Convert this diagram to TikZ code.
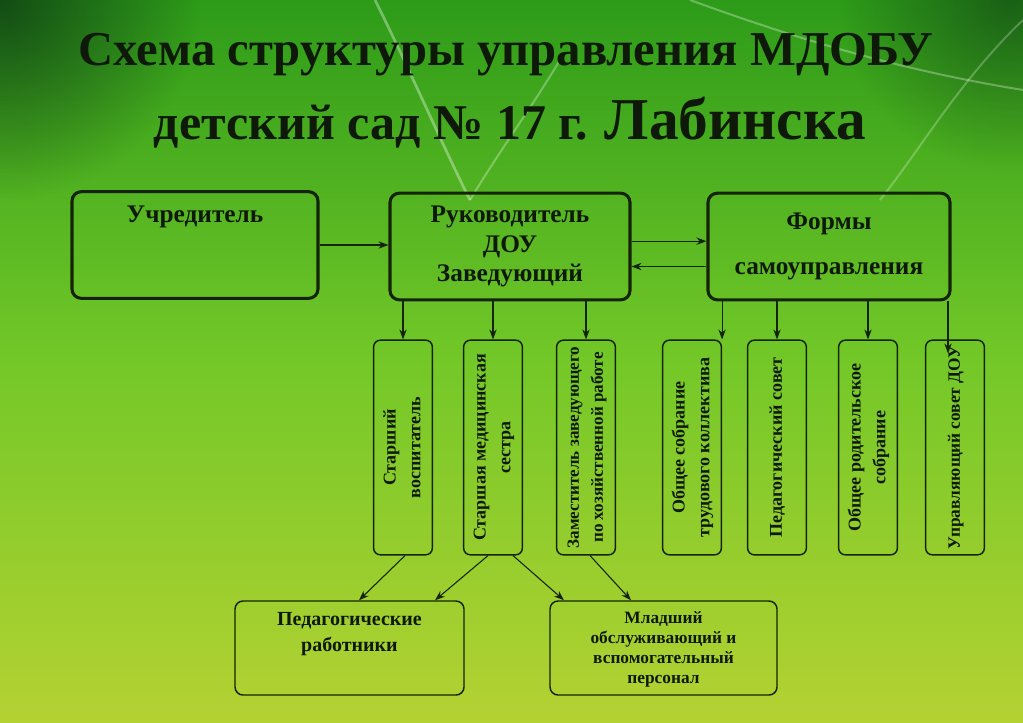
\documentclass[tikz,border=0pt]{standalone}
\usepackage{fontspec}
\setmainfont{Liberation Serif}
\usepackage{graphicx}
\usetikzlibrary{arrows.meta,calc,fadings}
\definecolor{bgtop}{RGB}{45,155,25}
\definecolor{bgmid}{RGB}{115,200,40}
\definecolor{bgbot}{RGB}{180,210,50}
\definecolor{bgdark}{RGB}{10,50,20}
\definecolor{boxline}{RGB}{20,35,10}
\definecolor{ink}{RGB}{15,25,10}
\newcommand{\vlab}[1]{\rotatebox{90}{\begin{tabular}{@{}c@{}}#1\end{tabular}}}
\tikzfading[name=softdisc, inner color=transparent!0, outer color=transparent!100]
\tikzstyle{arr} = [thick,-{Stealth[length=7.5pt,width=5.5pt]},color=boxline]
\tikzstyle{topbox} = [draw=boxline,line width=2.3pt,rounded corners=7pt,minimum height=80pt,inner sep=0pt]
\tikzstyle{vbox} = [draw=boxline,line width=1.1pt,rounded corners=5pt,minimum width=44pt,minimum height=161pt,inner sep=0pt,font=\bfseries\fontsize{13.5}{18.5}\selectfont,text=ink]
\tikzstyle{lowbox} = [draw=boxline,line width=1.1pt,rounded corners=6pt,minimum height=70.5pt,inner sep=0pt]
\tikzstyle{boxtext} = [font=\bfseries\fontsize{19}{22}\selectfont,text=ink,align=center,inner sep=0pt]

\begin{document}
\begin{tikzpicture}[x=0.75pt,y=0.75pt,yscale=-1,xscale=1]
\useasboundingbox (0,0) rectangle (1023,722);

%Background
\shade[top color=bgtop, bottom color=bgbot, middle color=bgmid] (0,0) rectangle (1023,722);
\fill[bgdark, opacity=0.75, path fading=softdisc] (-200,-200) rectangle (200,200);
\fill[bgdark, opacity=0.55, path fading=softdisc] (840,-170) rectangle (1180,170);
%Light streaks
\draw[white, opacity=0.35, line width=2] (375,0) .. controls (410,70) and (440,140) .. (470,200);
\draw[white, opacity=0.3, line width=1.5] (470,200) .. controls (500,150) and (530,110) .. (560,60);
\draw[white, opacity=0.3, line width=1.5] (690,0) .. controls (800,40) and (900,70) .. (1023,90);
\draw[white, opacity=0.25, line width=1.5] (1023,20) .. controls (960,80) and (920,150) .. (880,200);

% Title
\node[anchor=base,text=ink,font=\bfseries\fontsize{36.5}{40}\selectfont] (title1) at (506,65) {Схема структуры управления МДОБУ};
\node[anchor=base,text=ink,font=\bfseries\fontsize{37.5}{40}\selectfont] (title2) at (510,139) {детский сад № 17 г. {\fontsize{44.5}{46}\selectfont Лабинска}};

%Top boxes
\node[topbox,minimum width=184.5pt] (uch) at (195,245) {};
\node[boxtext,anchor=base] (uchtxt) at (195,222) {Учредитель};
\node[topbox,minimum width=180pt,boxtext,execute at begin node=\setlength{\baselineskip}{22pt}] (ruk) at (510,246.5) {Руководитель\\ДОУ\\Заведующий};
\node[topbox,minimum width=181.5pt,boxtext] (fsu) at (829,246.5) {Формы\\[12pt]самоуправления};

%Vertical boxes
\node[vbox] (b1) at (403,447.5) {\vlab{Старший\\воспитатель}};
\node[vbox] (b2) at (493,447.5) {\vlab{Старшая медицинская\\сестра}};
\node[vbox,font=\bfseries\fontsize{12.8}{18}\selectfont] (b3) at (586,447.5) {\vlab{Заместитель заведующего\\по хозяйственной работе}};
\node[vbox] (b4) at (692,447.5) {\vlab{Общее собрание\\трудового коллектива}};
\node[vbox] (b5) at (777,447.5) {\vlab{Педагогический совет}};
\node[vbox] (b6) at (868,447.5) {\vlab{Общее родительское\\собрание}};
\node[vbox,font=\bfseries\fontsize{13}{18.5}\selectfont] (b7) at (955,447.5) {\vlab{Управляющий совет ДОУ}};

%Bottom boxes
\node[lowbox,minimum width=171.75pt] (ped) at (349.5,648) {};
\node[anchor=north,align=center,text=ink,font=\bfseries\fontsize{15}{19}\selectfont] (pedtxt) at (349.5,608) {Педагогические\\работники};
\node[lowbox,minimum width=170.25pt] (mlad) at (663.5,648) {};
\node[anchor=north,align=center,text=ink,font=\bfseries\fontsize{13}{15}\selectfont] (mladtxt) at (663.5,607) {Младший\\обслуживающий и\\вспомогательный\\персонал};

%Arrows top row
\draw[arr] (uch.east) -- (uch.east -| ruk.west);
\draw[arr] ([yshift=-4pt]ruk.east) -- ([yshift=-4pt]fsu.west);
\draw[arr] ([yshift=15pt]fsu.west) -- ([yshift=15pt]ruk.east);

%Arrows down
\draw[arr] (b1.north |- ruk.south) -- (b1.north);
\draw[arr] (b2.north |- ruk.south) -- (b2.north);
\draw[arr] (b3.north |- ruk.south) -- (b3.north);
\draw[arr] (b4.north east |- fsu.south) -- (b4.north east);
\draw[arr] (b5.north |- fsu.south) -- (b5.north);
\draw[arr] (b6.north |- fsu.south) -- (b6.north);
\coordinate (b7in) at ($(b7.north)+(-7,14)$);
\draw[arr] (b7in |- fsu.south) -- (b7in);

%Arrows to bottom boxes
\draw[arr] ($(b1.south)+(2,0)$) -- ($(ped.north)+(9.5,0)$);
\draw[arr] ($(b2.south)+(-5,0)$) -- ($(ped.north)+(85.5,0)$);
\draw[arr] ($(b2.south)+(20,0)$) -- ($(mlad.north)+(-99.5,0)$);
\draw[arr] ($(b3.south)+(4,0)$) -- ($(mlad.north)+(-32.5,0)$);

\end{tikzpicture}
\end{document}
